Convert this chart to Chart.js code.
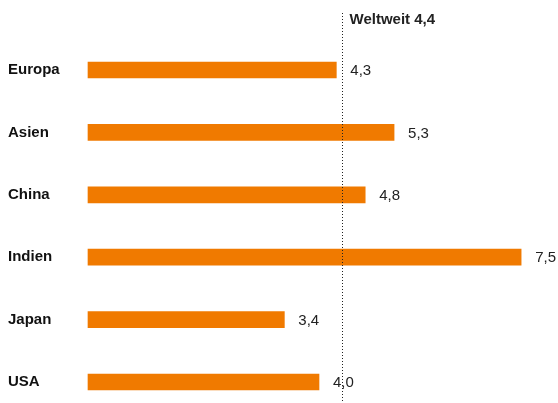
<!DOCTYPE html>
<html><head><meta charset="utf-8">
<script src="https://cdn.jsdelivr.net/npm/chart.js@4/dist/chart.umd.min.js"></script>
<style>html,body{margin:0;padding:0;background:#fff}#wrap{width:558px;height:403px}</style>
</head><body><div id="wrap"><canvas id="c" width="558" height="403"></canvas></div>
<script>
const categories = ['Europa', 'Asien', 'China', 'Indien', 'Japan', 'USA'];
const values = [4.3, 5.3, 4.8, 7.5, 3.4, 4.0];
const worldValue = 4.4;
const worldLabel = 'Weltweit';

const fmt = v => v.toFixed(1).replace('.', ',');
const FONT = '"Liberation Sans", Arial, sans-serif';

const overlay = {
  id: 'overlay',
  afterDatasetsDraw(chart) {
    const ctx = chart.ctx, x = chart.scales.x;
    const meta = chart.getDatasetMeta(0);
    ctx.save();
    ctx.fillStyle = '#222';
    ctx.font = '15px ' + FONT;
    ctx.textBaseline = 'middle';
    ctx.textAlign = 'left';
    meta.data.forEach((bar, i) => {
      ctx.fillText(fmt(values[i]), bar.x + 14, bar.y + 1);
    });
    const lx = Math.round(x.getPixelForValue(worldValue)) + 0.5;
    ctx.strokeStyle = '#222';
    ctx.lineWidth = 1;
    ctx.setLineDash([1, 2]);
    ctx.beginPath();
    ctx.moveTo(lx, 13);
    ctx.lineTo(lx, chart.height);
    ctx.stroke();
    ctx.setLineDash([]);
    ctx.font = 'bold 15px ' + FONT;
    ctx.fillText(worldLabel + ' ' + fmt(worldValue), lx + 7, 20);
    ctx.restore();
  }
};

new Chart(document.getElementById('c'), {
  type: 'bar',
  data: {
    labels: categories,
    datasets: [{
      data: values,
      backgroundColor: '#f07a00',
      barThickness: 16,
      clip: false
    }]
  },
  options: {
    indexAxis: 'y',
    responsive: false,
    animation: false,
    layout: { padding: { left: 8, right: 8, top: 70, bottom: 21 } },
    plugins: { legend: { display: false }, tooltip: { enabled: false } },
    scales: {
      x: { display: false, min: 0, max: 8 },
      y: {
        offset: false,
        grid: { display: false },
        border: { display: false },
        afterFit(scale) { scale.width = 80; },
        ticks: {
          crossAlign: 'far',
          color: '#111',
          font: { family: FONT, size: 15, weight: 'bold' },
          padding: 0
        }
      }
    }
  },
  plugins: [overlay]
});
</script></body></html>
